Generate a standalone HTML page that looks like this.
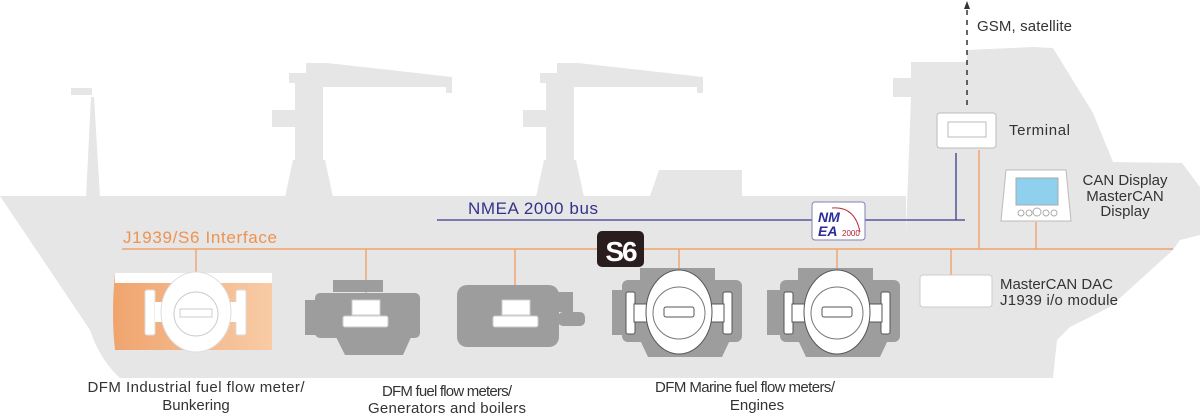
<!DOCTYPE html>
<html><head><meta charset="utf-8"><style>
html,body{margin:0;padding:0;background:#fff;}
svg{display:block;font-family:"Liberation Sans",sans-serif;}
</style></head><body>
<svg width="1200" height="416" viewBox="0 0 1200 416" xmlns="http://www.w3.org/2000/svg">
<defs>
<linearGradient id="og" x1="0" x2="1"><stop offset="0" stop-color="#f0a46e"/><stop offset="1" stop-color="#f8cba6"/></linearGradient>
</defs>
<g fill="#e6e6e7">
<!-- hull -->
<path d="M0,196 L906,196 L906,232 L911,97 L893,97 L893,78 L911,78 L911,62 L967,62 L967,50 L1033,47 L1053,48 L1093,113 L1113,162 L1182,163 L1200,187 L1200,235 L1180,240 L1173,250 L1110,307 L1070,327 L1057,340 L1053,378 L120,378 Q100,360 90,330 Z"/>
<path d="M650,196 L659,170 L742,170 L742,196 Z"/>
<!-- mast -->
<path d="M86,197 L91,97 L94,97 L100,197 Z"/>
<rect x="71" y="88" width="21" height="7"/>
<!-- cranes -->
<g id="cr">
<path d="M285,197 L293,160 L295,160 L295,127 L272,127 L272,110 L295,110 L295,83 L289,83 L289,73 L306,73 L306,63 L327,63 L452,77 L452,93 L446,93 L446,87 L323,87 L323,160 L325,160 L333,197 Z"/>
</g>
<use href="#cr" x="251"/>
</g>
<!-- NMEA bus -->
<line x1="437" y1="220" x2="965" y2="220" stroke="#3b3b8c" stroke-width="1.3"/>
<line x1="956" y1="153" x2="956" y2="220" stroke="#3b3b8c" stroke-width="1.3"/>
<text x="468" y="214" font-size="17" fill="#33338a" textLength="130">NMEA 2000 bus</text>
<!-- J1939 -->
<g stroke="#f2a26c" stroke-width="1.4">
<line x1="122" y1="249" x2="1173" y2="249"/>
<line x1="979" y1="150" x2="979" y2="249"/>
<line x1="1036" y1="222" x2="1036" y2="249"/>
<line x1="951" y1="249" x2="951" y2="275"/>
<line x1="679" y1="249" x2="679" y2="275"/>
<line x1="837" y1="249" x2="837" y2="275"/>
<line x1="196" y1="249" x2="196" y2="275"/>
<line x1="366" y1="249" x2="366" y2="300"/>
<line x1="515" y1="249" x2="515" y2="298"/>
</g>
<text x="123" y="243" font-size="17" fill="#f0924f" textLength="154">J1939/S6 Interface</text>
<!-- S6 -->
<rect x="597" y="231" width="47" height="36" rx="5" fill="#2a1d1d"/>
<text x="620.5" y="261" font-size="28" font-weight="bold" fill="#fff" text-anchor="middle" letter-spacing="-2">S6</text>
<!-- NMEA logo -->
<rect x="812" y="202" width="53" height="38" rx="3" fill="#fff" stroke="#8080b0"/>
<text x="818" y="222" font-size="14" font-weight="bold" font-style="italic" fill="#2b2b9a">NM</text>
<text x="818" y="236" font-size="14" font-weight="bold" font-style="italic" fill="#2b2b9a">EA</text>
<text x="842" y="236" font-size="8" fill="#b02030">2000</text>
<path d="M832,208 Q855,206 860,232" fill="none" stroke="#c03040" stroke-width="1"/>
<!-- GSM -->
<line x1="967" y1="10" x2="967" y2="110" stroke="#333" stroke-width="1.5" stroke-dasharray="5,5"/>
<path d="M964,9 L967,1 L970,9 Z" fill="#333"/>
<text x="977" y="31" font-size="15" fill="#333" textLength="95">GSM, satellite</text>
<!-- Terminal -->
<rect x="937" y="113" width="59" height="35" rx="3" fill="#fff" stroke="#bbb"/>
<rect x="948" y="122" width="38" height="15" fill="#fff" stroke="#bbb"/>
<text x="1009" y="135" font-size="15" fill="#333" textLength="61">Terminal</text>
<!-- CAN Display -->
<path d="M1006,170 L1066,170 L1071,221 L1001,221 Z" fill="#fff" stroke="#bbb"/>
<rect x="1016" y="178" width="42" height="27" fill="#8fd0ee" stroke="#aaa"/>
<g fill="none" stroke="#aaa"><circle cx="1021" cy="213" r="3"/><circle cx="1029" cy="213" r="3"/><circle cx="1037" cy="212" r="4"/><circle cx="1046" cy="213" r="3"/><circle cx="1054" cy="213" r="3"/></g>
<g font-size="15" fill="#333" text-anchor="middle"><text x="1125" y="185">CAN Display</text><text x="1125" y="201">MasterCAN</text><text x="1125" y="216">Display</text></g>
<!-- DAC -->
<rect x="920" y="275" width="72" height="32" rx="3" fill="#fff" stroke="#ccc"/>
<text x="1000" y="289" font-size="15" fill="#333" textLength="113">MasterCAN DAC</text>
<text x="1000" y="305" font-size="15" fill="#333" textLength="118">J1939 i/o module</text>
<!-- Bunkering meter -->
<path d="M115,273 L272,273 L272,350 L115,350 Q111,315 115,273 Z" fill="url(#og)"/>
<rect x="115" y="273" width="157" height="10" fill="#fff"/>
<rect x="145" y="290" width="10" height="45" rx="2" fill="#fff" stroke="#ddd"/>
<rect x="236" y="290" width="10" height="45" rx="2" fill="#fff" stroke="#ddd"/>
<rect x="155" y="302" width="82" height="20" fill="#fff"/>
<ellipse cx="196" cy="312" rx="35" ry="40" fill="#fff" stroke="#ddd"/>
<circle cx="196" cy="314" r="22" fill="none" stroke="#ccc"/>
<rect x="180" y="309" width="32" height="8" fill="#fff" stroke="#ccc"/>
<!-- engines -->
<g fill="#9d9d9e">
<rect x="333" y="280" width="50" height="12"/>
<rect x="315" y="293" width="105" height="45" rx="5"/>
<rect x="305" y="300" width="12" height="35"/>
<path d="M335,335 L412,335 L403,355 L345,355 Z"/>
<rect x="457" y="285" width="102" height="62" rx="10"/>
<rect x="558" y="292" width="15" height="20"/>
<rect x="558" y="312" width="27" height="14" rx="5"/>
<rect x="640" y="268" width="75" height="12"/>
<rect x="622" y="280" width="120" height="62" rx="6"/>
<rect x="612" y="290" width="12" height="45"/>
<path d="M640,340 L730,340 L722,357 L648,357 Z"/>
<rect x="798" y="268" width="75" height="12"/>
<rect x="780" y="280" width="120" height="62" rx="6"/>
<rect x="767" y="290" width="14" height="45"/>
<path d="M798,340 L888,340 L880,357 L806,357 Z"/>
</g>
<g fill="#fff" stroke="#ccc">
<rect x="352" y="300" width="28" height="15"/><rect x="343" y="316" width="45" height="11" rx="2"/>
<rect x="502" y="300" width="28" height="15"/><rect x="493" y="316" width="45" height="11" rx="2"/>
</g>
<g fill="#fff" stroke="#555">
<rect x="626" y="292" width="9" height="42" rx="2"/><rect x="723" y="292" width="9" height="42" rx="2"/>
<rect x="634" y="304" width="90" height="18"/>
<ellipse cx="679" cy="312" rx="33" ry="42"/>
<circle cx="679" cy="313" r="26" fill="none" stroke="#777"/>
<rect x="664" y="307" width="30" height="10" rx="2"/>
<rect x="784" y="292" width="9" height="42" rx="2"/><rect x="881" y="292" width="9" height="42" rx="2"/>
<rect x="792" y="304" width="90" height="18"/>
<ellipse cx="837" cy="312" rx="33" ry="42"/>
<circle cx="837" cy="313" r="26" fill="none" stroke="#777"/>
<rect x="822" y="307" width="30" height="10" rx="2"/>
</g>
<!-- labels -->
<g font-size="15" fill="#333" text-anchor="middle">
<text x="196" y="392" textLength="217">DFM Industrial fuel flow meter/</text>
<text x="196" y="410">Bunkering</text>
<text x="447" y="396" textLength="130">DFM fuel flow meters/</text>
<text x="447" y="413" textLength="158">Generators and boilers</text>
<text x="745" y="392" textLength="180">DFM Marine fuel flow meters/</text>
<text x="757" y="410">Engines</text>
</g>
</svg>
</body></html>
